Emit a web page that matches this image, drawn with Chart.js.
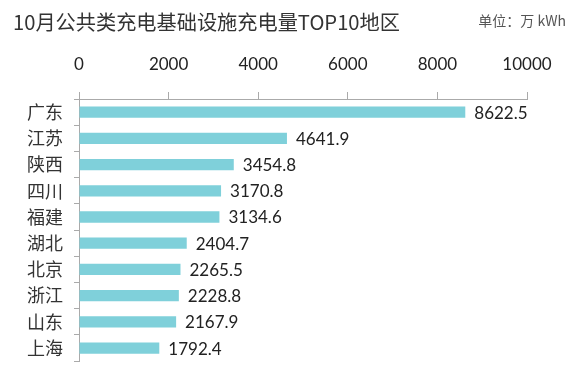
<!DOCTYPE html>
<html>
<head>
<meta charset="utf-8">
<script src="https://cdn.jsdelivr.net/npm/chart.js@4.4.1/dist/chart.umd.min.js"></script>
<style>
html,body{margin:0;padding:0;background:#fff;}
#wrap{position:relative;width:573px;height:383px;}
</style>
</head>
<body>
<div id="wrap"><canvas id="c" width="573" height="383"></canvas></div>
<script>
const titleText = '10月公共类充电基础设施充电量TOP10地区';
const unitText = '单位：万 kWh';
const categories = ['广东','江苏','陕西','四川','福建','湖北','北京','浙江','山东','上海'];
const values = [8622.5, 4641.9, 3454.8, 3170.8, 3134.6, 2404.7, 2265.5, 2228.8, 2167.9, 1792.4];
const xTicks = [0, 2000, 4000, 6000, 8000, 10000];

const CJK = '"Noto Sans CJK SC", "Noto Sans", sans-serif';
const NUM = 'Lato, "Open Sans", sans-serif';

const textPlugin = {
  id: 'texts',
  afterDraw(chart) {
    const ctx = chart.ctx;
    ctx.save();
    // title
    ctx.fillStyle = '#333';
    ctx.font = '20.2px ' + CJK;
    ctx.textBaseline = 'middle';
    ctx.textAlign = 'left';
    ctx.fillText(titleText, 13, 22);
    // unit
    ctx.fillStyle = '#555';
    ctx.font = '14px ' + CJK;
    ctx.textAlign = 'right';
    ctx.fillText(unitText, 566, 21);
    // value labels
    const meta = chart.getDatasetMeta(0);
    ctx.fillStyle = '#222';
    ctx.font = '17px ' + NUM;
    ctx.textAlign = 'left';
    ctx.textBaseline = 'middle';
    meta.data.forEach((bar, i) => {
      ctx.fillText(values[i].toFixed(1), bar.x + 9, bar.y + 1);
    });
    ctx.restore();
  }
};

new Chart(document.getElementById('c'), {
  type: 'bar',
  data: {
    labels: categories,
    datasets: [{
      data: values,
      backgroundColor: '#7fd0da',
      borderWidth: 0,
      barPercentage: 0.86,
      categoryPercentage: 0.5
    }]
  },
  options: {
    indexAxis: 'y',
    responsive: false,
    animation: false,
    devicePixelRatio: 1,
    layout: { padding: { left: 0, right: 46, top: 40, bottom: 3 } },
    plugins: { legend: { display: false }, tooltip: { enabled: false }, title: { display: false } },
    scales: {
      x: {
        position: 'top',
        min: 0,
        max: 10000,
        afterBuildTicks(scale) { scale.ticks = xTicks.map(v => ({ value: v })); },
        afterFit(scale) { scale.height = 59; },
        ticks: {
          color: '#222',
          font: { family: NUM, size: 17 },
          padding: 17,
          maxRotation: 0,
          callback: (v) => String(v)
        },
        grid: { drawOnChartArea: false, drawTicks: true, tickLength: 7, color: '#aaa' },
        border: { display: true, color: '#aaa', width: 1 }
      },
      y: {
        afterFit(scale) { scale.width = 79; },
        ticks: {
          color: '#333',
          font: { family: CJK, size: 18 },
          padding: 11
        },
        grid: { offset: true, drawOnChartArea: false, drawTicks: true, tickLength: 5, color: '#aaa' },
        border: { display: true, color: '#aaa', width: 1 }
      }
    }
  },
  plugins: [textPlugin]
});
</script>
</body>
</html>
